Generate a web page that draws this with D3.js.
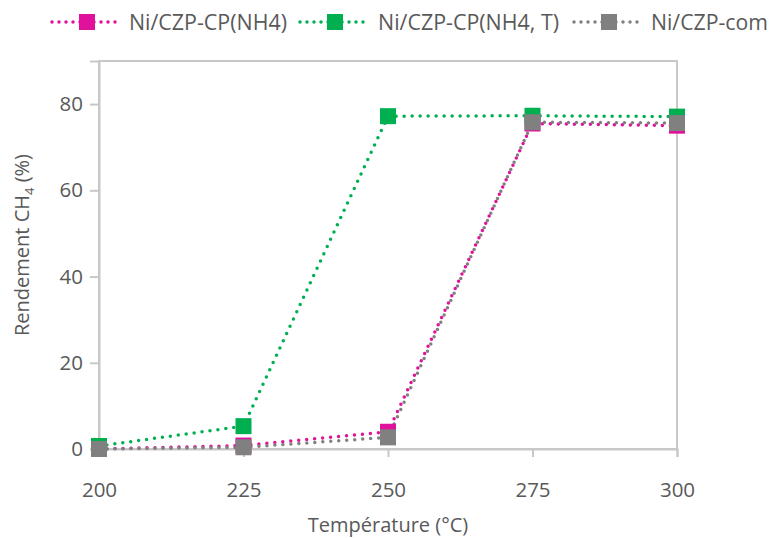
<!DOCTYPE html>
<html><head><meta charset="utf-8">
<script src="https://cdn.jsdelivr.net/npm/d3@7"></script>
<style>body{margin:0;background:#fff}svg{display:block}</style>
</head><body>
<script>
const temperatures = [200, 225, 250, 275, 300];
const seriesNames = ["Ni/CZP-CP(NH4)", "Ni/CZP-CP(NH4, T)", "Ni/CZP-com"];
const cpNH4 = [0, 0.8, 4.0, 75.5, 75.0];
const cpNH4T = [0.7, 5.3, 77.2, 77.3, 77.1];
const com = [0, 0.4, 2.7, 75.8, 75.6];
const yTicks = [0, 20, 40, 60, 80];
const xTicks = [200, 225, 250, 275, 300];
const colors = ["#e0119b", "#00b050", "#808080"];

const W = 771, H = 538;
const svg = d3.select("body").append("svg").attr("width", W).attr("height", H);
const x = d3.scaleLinear().domain([200, 300]).range([99, 677]);
const y = d3.scaleLinear().domain([0, 90]).range([449, 61]);
const axisCol = "#c8c8c8", textCol = "#595959";

// frame
svg.append("rect").attr("x", 99).attr("y", 61).attr("width", 578).attr("height", 388)
  .attr("fill", "none").attr("stroke", axisCol).attr("stroke-width", 2);

const xa = svg.append("g").attr("transform", "translate(0,449)")
  .call(d3.axisBottom(x).tickValues(xTicks).tickSize(8).tickPadding(25).tickFormat(d3.format("d")));
const ya = svg.append("g").attr("transform", "translate(99,0)")
  .call(d3.axisLeft(y).tickValues(yTicks).tickSize(9).tickPadding(7));
[xa, ya].forEach(a => {
  a.select(".domain").attr("stroke", axisCol).attr("stroke-width", 2);
  a.selectAll(".tick line").attr("stroke", axisCol).attr("stroke-width", 2);
  a.selectAll(".tick text").attr("fill", textCol).attr("font-family", "Open Sans, sans-serif").attr("font-size", 20.5);
});

svg.append("text").attr("x", 388).attr("y", 532).attr("text-anchor", "middle")
  .attr("fill", textCol).attr("font-family", "Open Sans, sans-serif").attr("font-size", 20)
  .text("Température (°C)");
const yt = svg.append("text").attr("transform", "translate(29,245) rotate(-90)").attr("text-anchor", "middle")
  .attr("fill", textCol).attr("font-family", "Open Sans, sans-serif").attr("font-size", 20);
yt.append("tspan").text("Rendement CH");
yt.append("tspan").attr("font-size", 13).attr("dy", 5).text("4");
yt.append("tspan").attr("dy", -5).text(" (%)");

const data = [cpNH4, cpNH4T, com];
const line = d3.line().x((d, i) => x(temperatures[i])).y(d => y(d));
data.forEach((vals, s) => {
  svg.append("path").datum(vals).attr("d", line).attr("fill", "none")
    .attr("stroke", colors[s]).attr("stroke-width", 3.5).attr("stroke-linecap", "round")
    .attr("stroke-dasharray", "0 8");
});
data.forEach((vals, s) => {
  svg.selectAll(null).data(vals).enter().append("rect")
    .attr("x", (d, i) => x(temperatures[i]) - 8).attr("y", d => y(d) - 8)
    .attr("width", 16).attr("height", 16).attr("fill", colors[s]);
});

// legend
const legX = [52, 300, 574], legText = [129, 378, 651], legW = [158, 181, 117];
seriesNames.forEach((n, s) => {
  const g = svg.append("g");
  g.append("line").attr("x1", legX[s]).attr("x2", legX[s] + 70).attr("y1", 22).attr("y2", 22)
    .attr("stroke", colors[s]).attr("stroke-width", 3.5).attr("stroke-linecap", "round").attr("stroke-dasharray", "0 7");
  g.append("rect").attr("x", legX[s] + 27).attr("y", 14).attr("width", 16).attr("height", 16).attr("fill", colors[s]);
  g.append("text").attr("x", legText[s]).attr("y", 30).attr("fill", textCol)
    .attr("font-family", "Liberation Sans Narrow, Open Sans, sans-serif").attr("font-size", 22)
    .attr("textLength", legW[s]).attr("lengthAdjust", "spacingAndGlyphs").text(n);
});
</script>
</body></html>
